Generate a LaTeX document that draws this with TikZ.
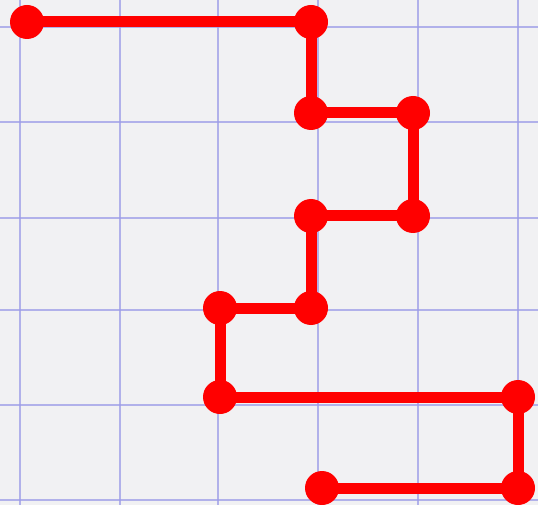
\documentclass[tikz,border=0pt]{standalone}
\begin{document}
\begin{tikzpicture}[x=1pt,y=-1pt,
  gridline/.style={draw=gridblue,line width=2.6pt,opacity=0.75},
  dot/.style={circle,fill=pathred,inner sep=0pt,minimum size=34pt},
  seg/.style={draw=pathred,line width=11pt}]
\definecolor{paper}{HTML}{F1F1F3}
\definecolor{gridblue}{HTML}{9C9CE8}
\definecolor{pathred}{HTML}{FF0000}
\fill[paper] (0,0) rectangle (538,505);
\useasboundingbox (0,0) rectangle (538,505);
\foreach \x in {20,120,218,318,418,518} \draw[gridline] (\x,0) -- (\x,505);
\foreach \y in {27,122,218,310,405,500} \draw[gridline] (0,\y) -- (538,\y);
\node[dot] (p1) at (27,22) {};
\node[dot] (p2) at (311,22) {};
\node[dot] (p3) at (311,113) {};
\node[dot] (p4) at (413,113) {};
\node[dot] (p5) at (413,216) {};
\node[dot] (p6) at (311,216) {};
\node[dot] (p7) at (311,308) {};
\node[dot] (p8) at (220,308) {};
\node[dot] (p9) at (220,397) {};
\node[dot] (p10) at (518,397) {};
\node[dot] (p11) at (518,488) {};
\node[dot] (p12) at (322,488) {};
\draw[seg] (p1.center) -- (p2.center) -- (p3.center) -- (p4.center) -- (p5.center) -- (p6.center) -- (p7.center) -- (p8.center) -- (p9.center) -- (p10.center) -- (p11.center) -- (p12.center);
\end{tikzpicture}
\end{document}
